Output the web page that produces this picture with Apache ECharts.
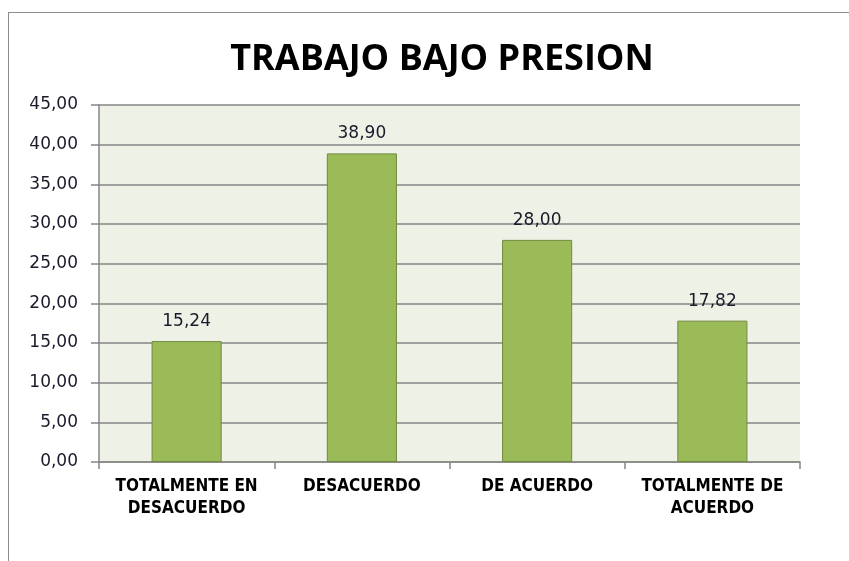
<!DOCTYPE html>
<html>
<head>
<meta charset="utf-8">
<script src="https://cdn.jsdelivr.net/npm/echarts@6/dist/echarts.min.js"></script>
<style>
  html, body { margin: 0; padding: 0; background: #fff; }
  #frame { position: absolute; left: 8px; top: 12px; width: 900px; height: 600px;
           border-left: 1px solid #8c8c8c; border-top: 1px solid #8c8c8c; }
  #chart { position: absolute; left: 0; top: 0; width: 849px; height: 561px; }
</style>
</head>
<body>
<div id="frame"></div>
<div id="chart"></div>
<script>
// categorías y valores (porcentaje)
const categories = ['TOTALMENTE EN\nDESACUERDO', 'DESACUERDO', 'DE ACUERDO', 'TOTALMENTE DE\nACUERDO'];
const values = [15.24, 38.90, 28.00, 17.82];
const yMin = 0, yMax = 45, yStep = 5;

const fmt = v => v.toFixed(2).replace('.', ',');

const chart = echarts.init(document.getElementById('chart'), null, { renderer: 'canvas' });
chart.setOption({
  animation: false,
  title: {
    text: 'TRABAJO BAJO PRESION',
    left: 437, top: 37,
    textAlign: 'center',
    textStyle: { fontFamily: 'Open Sans', fontWeight: 'bold', fontSize: 36, color: '#000' }
  },
  grid: { left: 99, right: 49, top: 105, bottom: 99, show: true,
          backgroundColor: '#EEF2E6', borderWidth: 0 },
  xAxis: {
    type: 'category',
    data: categories,
    axisLine: { lineStyle: { color: '#868686', width: 1.5 } },
    axisTick: { show: true, length: 7, lineStyle: { color: '#868686', width: 1.5 } },
    axisLabel: { margin: 14, color: '#000', fontFamily: "'DejaVu Sans Condensed', 'DejaVu Sans'",
                 fontWeight: 'bold', fontSize: 17, lineHeight: 22, interval: 0 }
  },
  yAxis: {
    type: 'value',
    min: yMin, max: yMax, interval: yStep,
    axisLine: { show: true, lineStyle: { color: '#868686', width: 1.5 } },
    axisTick: { show: true, length: 8, lineStyle: { color: '#868686', width: 1.5 } },
    splitLine: { lineStyle: { color: '#868686', width: 1.5 } },
    axisLabel: { margin: 21, color: '#1a1a2a', fontFamily: 'DejaVu Sans', fontSize: 17, formatter: fmt }
  },
  series: [{
    type: 'bar',
    data: values,
    barWidth: '40%',
    itemStyle: { color: '#9BBB59', borderColor: '#71893F', borderWidth: 1 },
    label: { show: true, position: 'top', distance: 11, color: '#1a1a2a',
             fontFamily: 'DejaVu Sans', fontSize: 17, formatter: p => fmt(p.value) }
  }]
});
</script>
</body>
</html>
